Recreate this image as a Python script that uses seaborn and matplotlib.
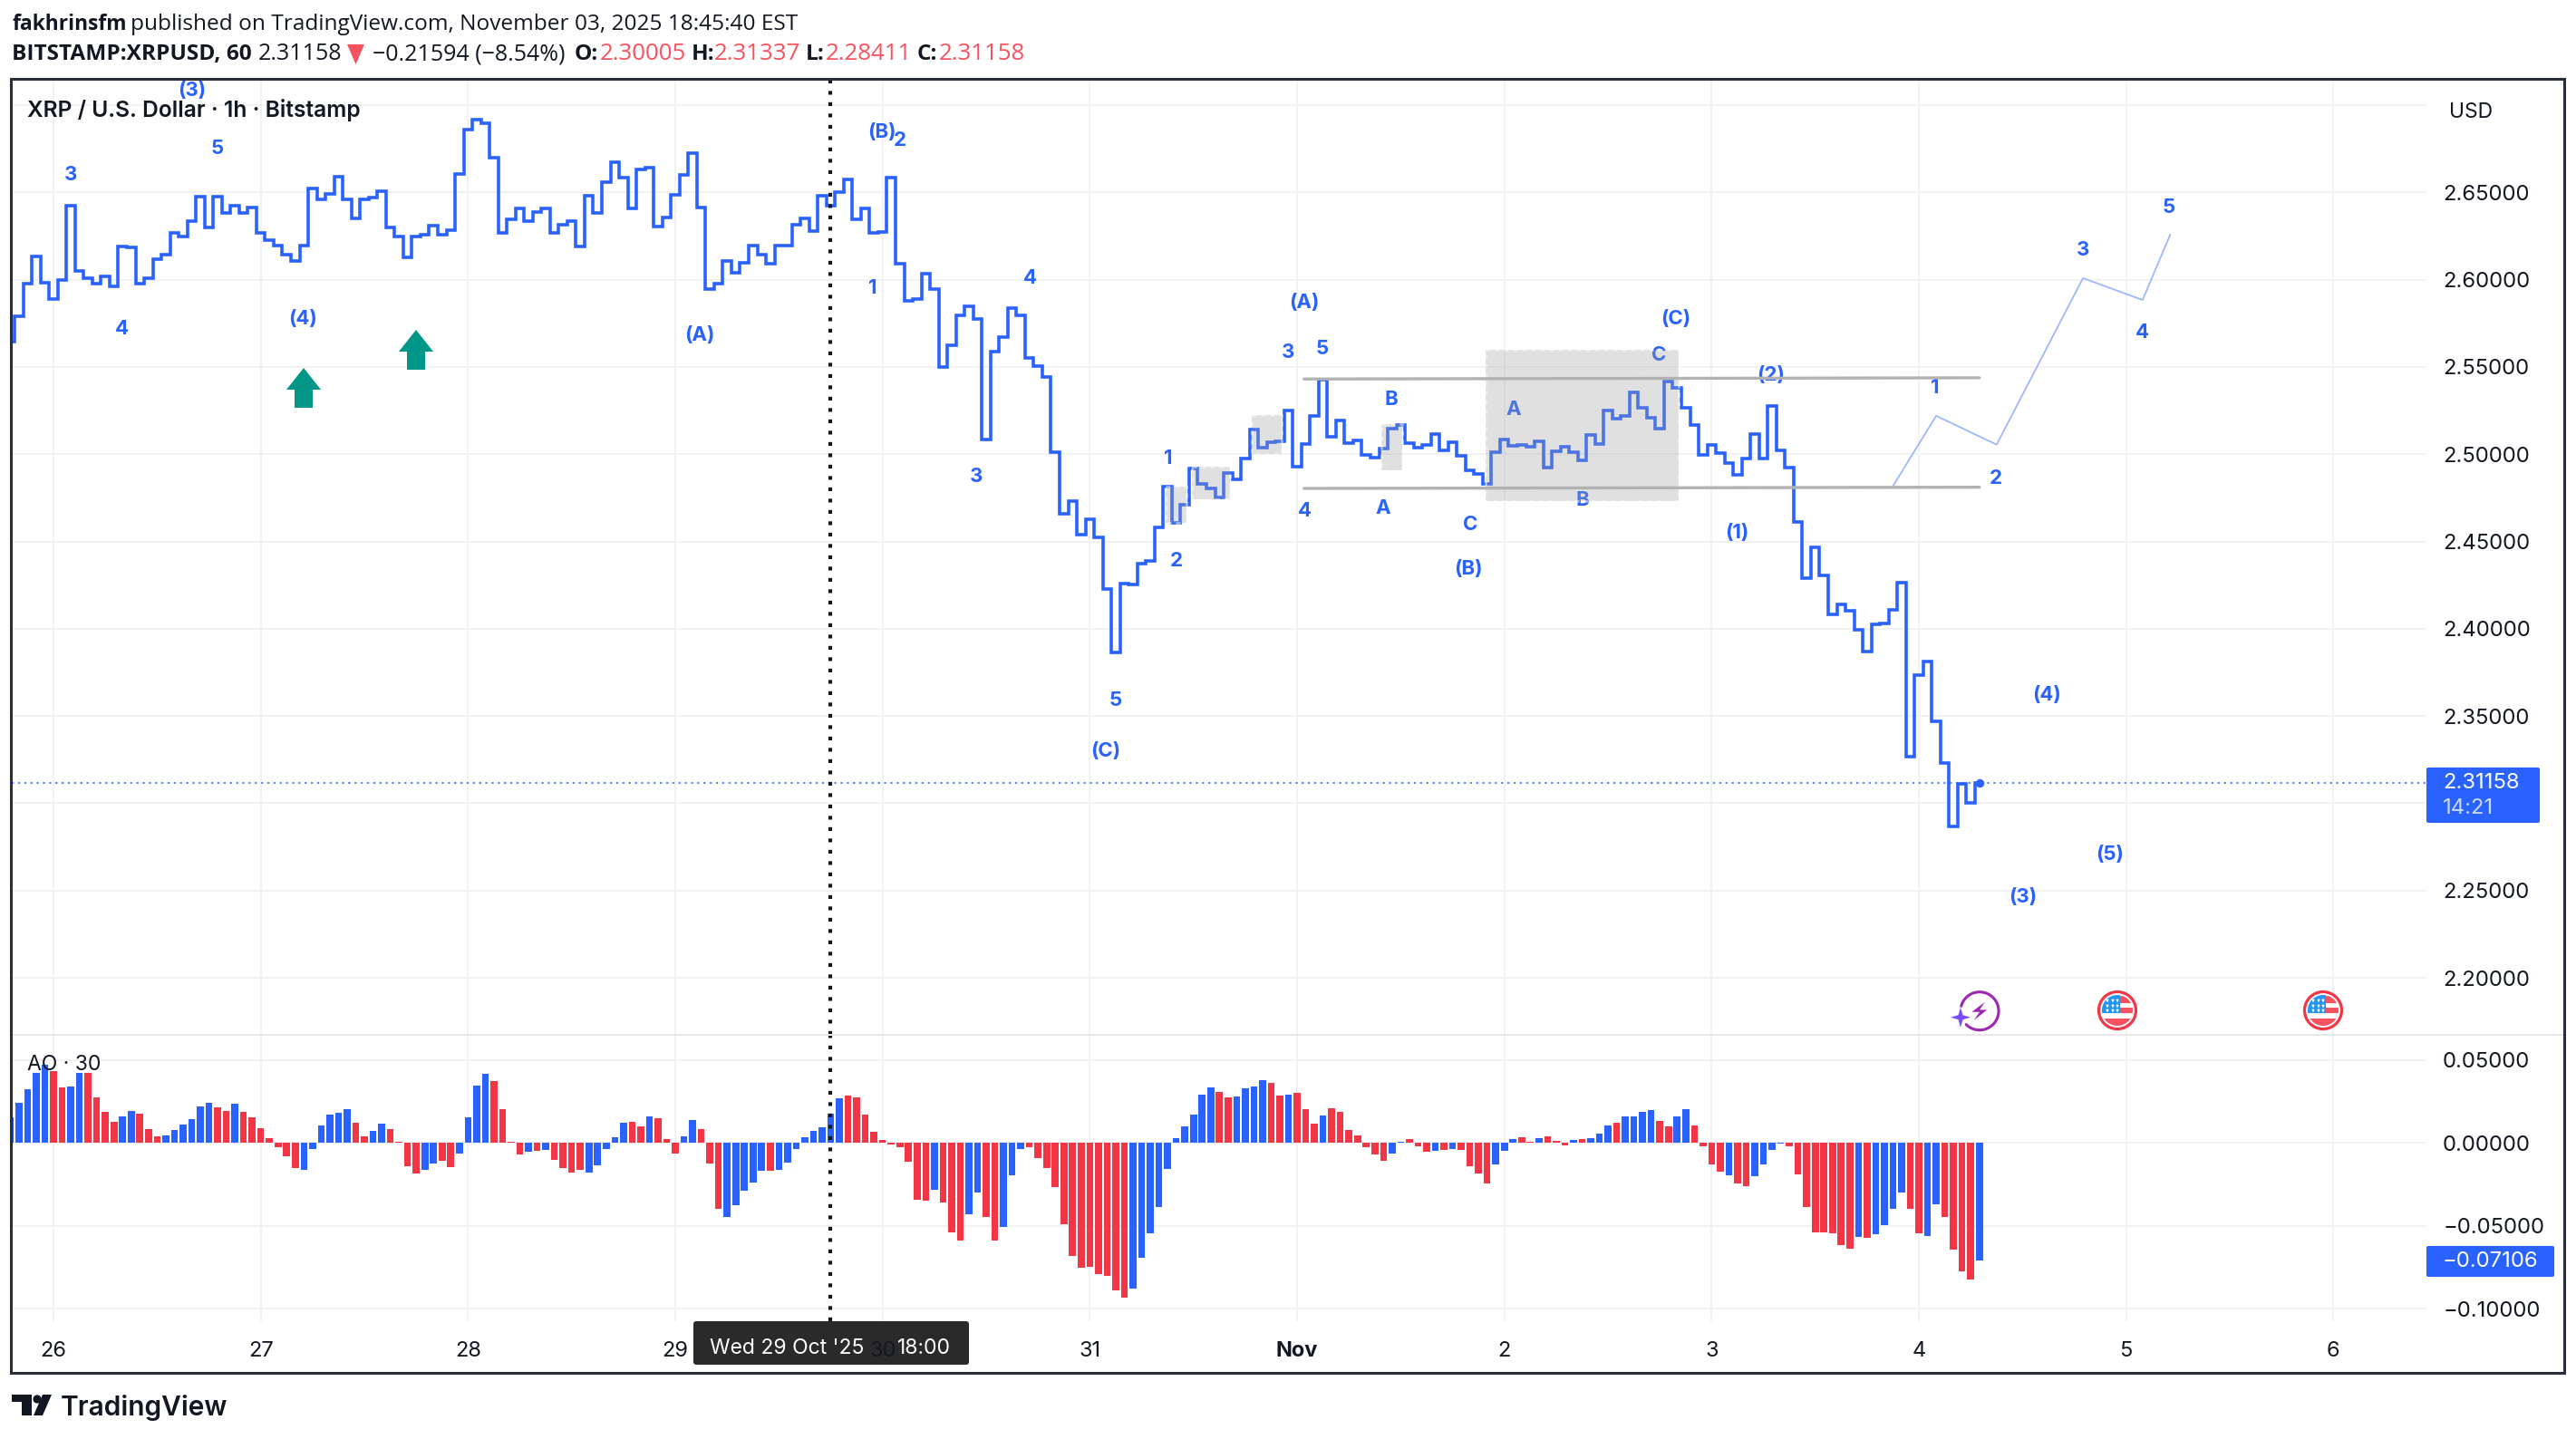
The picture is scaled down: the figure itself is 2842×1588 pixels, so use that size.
import numpy as np
import pandas as pd
import seaborn as sns
import matplotlib
matplotlib.use("Agg")
import matplotlib.pyplot as plt
from matplotlib.patches import Rectangle, Circle, Polygon, FancyBboxPatch
from matplotlib.transforms import Affine2D

# ---------------- data ----------------
# hours counted from 26 Oct 00:00
HOURS = list(range(-5, 224))
CLOSE = [2.5646, 2.5792, 2.5979, 2.6132, 2.5984,
    2.5889, 2.5997, 2.6422, 2.6049, 2.6010, 2.5979, 2.6017, 2.5962, 2.6189, 2.6184, 2.5976, 2.6010, 2.6118, 2.6146, 2.6267, 2.6247, 2.6337, 2.6476, 2.6300, 2.6476, 2.6385, 2.6422, 2.6385, 2.6415,
    2.6267, 2.6229, 2.6198, 2.6146, 2.6106, 2.6193, 2.6523, 2.6462, 2.6490, 2.6589, 2.6462, 2.6352, 2.6462, 2.6469, 2.6509, 2.6297, 2.6245, 2.6128, 2.6245, 2.6257, 2.6309, 2.6260, 2.6283, 2.6606,
    2.6861, 2.6917, 2.6896, 2.6700, 2.6267, 2.6344, 2.6408, 2.6337, 2.6389, 2.6408, 2.6267, 2.6316, 2.6335, 2.6191, 2.6479, 2.6384, 2.6557, 2.6674, 2.6583, 2.6410, 2.6630, 2.6642, 2.6306, 2.6358,
    2.6484, 2.6599, 2.6726, 2.6413, 2.5948, 2.5976, 2.6109, 2.6040, 2.6097, 2.6193, 2.6146, 2.6092, 2.6193, 2.6193, 2.6316, 2.6349, 2.6280, 2.6479, 2.6422, 2.6500, 2.6575, 2.6347, 2.6406, 2.6267,
    2.6276, 2.6587, 2.6091, 2.5878, 2.5891, 2.6036, 2.5947, 2.5501, 2.5627, 2.5794, 2.5850, 2.5776, 2.5085, 2.5590, 2.5673, 2.5835, 2.5794, 2.5553, 2.5506, 2.5445, 2.5014, 2.4661, 2.4732, 2.4539,
    2.4628, 2.4526, 2.4228, 2.3863, 2.4258, 2.4253, 2.4371, 2.4388, 2.4581, 2.4814, 2.4609, 2.4708, 2.4918, 2.4832, 2.4804, 2.4754, 2.4893, 2.4856, 2.4977, 2.5140, 2.5040, 2.5070, 2.5074, 2.5252,
    2.4931, 2.5061, 2.5217, 2.5425, 2.5099, 2.5192, 2.5064, 2.5081, 2.4995, 2.4983, 2.5035, 2.5147, 2.5165, 2.5064, 2.5038, 2.5054, 2.5113, 2.5021, 2.5068, 2.4991, 2.4908, 2.4886, 2.4830, 2.5012,
    2.5087, 2.5047, 2.5054, 2.5045, 2.5073, 2.4922, 2.5019, 2.5043, 2.5012, 2.4967, 2.5109, 2.5061, 2.5251, 2.5203, 2.5220, 2.5355, 2.5265, 2.5208, 2.5147, 2.5416, 2.5378, 2.5265, 2.5165, 2.4997,
    2.5052, 2.5005, 2.4948, 2.4884, 2.4977, 2.5113, 2.4974, 2.5274, 2.5023, 2.4922, 2.4613, 2.4288, 2.4467, 2.4306, 2.4083, 2.4141, 2.4102, 2.3995, 2.3868, 2.4023, 2.4031, 2.4106, 2.4262, 2.3269,
    2.3736, 2.3811, 2.3469, 2.3233, 2.2865, 2.3111, 2.30005, 2.31158]
AO_MILLI = [15.7, 24.2, 32.4, 42.3, 47.2,
    43.5, 33.5, 34.1, 42.3, 42.3, 27.5, 18.8, 12.8, 16.0, 19.3, 17.7, 8.4, 4.0, 4.6, 7.8, 11.1, 14.4, 22.0, 24.2, 21.5, 19.3, 23.7, 18.8, 15.5,
    8.9, 2.9, -2.6, -8.0, -15.1, -16.2, -3.6, 10.6, 17.1, 18.2, 20.4, 12.2, 4.0, 7.3, 11.7, 8.4, 0.7, -14.0, -18.4, -16.2, -12.4, -10.7, -14.6, -6.4,
    15.5, 34.6, 41.7, 37.3, 20.4, 0.7, -6.9, -5.3, -4.7, -4.2, -10.2, -15.1, -17.9, -16.2, -17.9, -13.5, -3.6, 3.5, 12.2, 12.8, 10.0, 16.0, 14.9, 2.4,
    -6.4, 4.0, 13.8, 8.4, -12.4, -39.7, -44.6, -37.5, -28.8, -23.9, -16.8, -16.8, -16.2, -11.8, -3.6, 3.5, 7.3, 9.5, 17.7, 27.0, 28.6, 27.5, 17.1, 6.7,
    1.8, -1.1, -2.4, -11.3, -34.2, -34.8, -28.2, -35.9, -53.9, -58.8, -43.0, -29.9, -44.6, -58.8, -50.6, -19.5, -3.6, -2.6, -9.1, -15.1, -26.6, -49.0, -68.1, -75.2,
    -74.7, -79.1, -80.1, -88.9, -93.3, -87.8, -69.2, -54.5, -38.6, -15.7, 2.9, 10.0, 17.1, 29.1, 33.5, 30.8, 27.5, 28.1, 33.0, 34.1, 37.9, 36.2, 28.6, 29.1,
    30.2, 20.4, 11.7, 16.6, 20.9, 18.8, 7.8, 4.6, -2.6, -6.9, -10.7, -6.4, 0.7, 2.4, -2.0, -5.3, -4.7, -4.2, -3.6, -4.2, -14.0, -18.4, -24.4, -12.9,
    -4.7, 2.4, 3.5, 0.7, 2.9, 4.0, 1.3, -1.5, 1.8, 2.4, 2.9, 5.6, 10.6, 12.2, 16.0, 16.0, 18.8, 19.9, 13.3, 10.0, 16.0, 20.4, 10.6, -2.0,
    -12.9, -17.3, -19.5, -24.4, -26.0, -20.0, -12.9, -4.2, -0.4, -2.0, -18.9, -38.6, -53.9, -53.9, -54.5, -61.6, -63.8, -56.6, -57.2, -55.0, -49.5, -39.7, -29.9, -39.7,
    -54.5, -56.1, -37.0, -44.6, -64.3, -77.4, -82.3, -71.06]
AO_SIGN = ("BBBBB" "RRBBRRRRBBRRRBBBBBBRRBRR" "RRRRRBBBBBBRRBBRRRRBBRRB" "BBBRRRRBRBRRRRBBBBBRRBRR"
           "RBBRRRBBBBBRBBBBBBBBRRRR" "RRRRRRBRRRBBRRBBBRRRRRRR" "RRRRRBBBBBBBBBBRRBBBBRRB"
           "RRRBRRRRRRRBBRRRBRBRRRRB" "BBRRBRRRBRBBBRBBBBRRBBRR" "RRBRRBBBBRRRRRRRRBRBBBBR" "RBBRRRRB")
DAY_TICKS = [0, 24, 48, 72, 96, 120, 144, 168, 192, 216, 240, 264]
DAY_LABELS = ["26", "27", "28", "29", "30", "31", "Nov", "2", "3", "4", "5", "6"]
PRICE_TICKS = [2.70, 2.65, 2.60, 2.55, 2.50, 2.45, 2.40, 2.35, 2.30, 2.25, 2.20]
PRICE_LABELS = ["", "2.65000", "2.60000", "2.55000", "2.50000", "2.45000", "2.40000", "2.35000", "", "2.25000", "2.20000"]
AO_TICKS = [0.05, 0.0, -0.05, -0.10]
AO_LABELS = ["0.05000", "0.00000", "\u22120.05000", "\u22120.10000"]
LAST_PRICE = 2.31158
LAST_AO = -0.07106
CROSSHAIR_HOUR = 90
RANGE_TOP = ([144.8, 223.0], [2.5431, 2.5438])
RANGE_BOTTOM = ([144.8, 223.0], [2.4804, 2.4811])
PROJ_HOURS = [212.9, 218.0, 225.0, 235.0, 241.9, 245.1]
PROJ_PRICE = [2.481, 2.522, 2.5055, 2.6009, 2.5884, 2.6258]
# wave labels: text, position in the 1568-wide view of the chart
WAVES = [("(3)", 117, 54), ("3", 43, 105), ("5", 132, 89), ("4", 74, 199), ("(4)", 184, 193), ("(A)", 426, 203),
         ("(B)", 537, 79), ("2", 548, 84), ("1", 531, 174), ("4", 627, 168), ("3", 594, 289), ("5", 679, 425),
         ("(C)", 673, 456), ("1", 711, 278), ("2", 716, 340), ("3", 784, 213), ("5", 805, 211), ("(A)", 794, 183),
         ("4", 794, 310), ("B", 847, 242), ("A", 842, 308), ("C", 895, 318), ("(B)", 894, 345), ("A", 921, 248),
         ("B", 963, 303), ("C", 1010, 215), ("(C)", 1020, 193), ("(2)", 1078, 227), ("1", 1178, 235), ("2", 1215, 290),
         ("(1)", 1057, 323), ("(4)", 1246, 422), ("(5)", 1284, 519), ("(3)", 1231, 545), ("3", 1268, 151),
         ("4", 1304, 201), ("5", 1320, 125)]

# ---------------- style ----------------
W, H = 2842, 1588
BLUE, RED, INK = "#2962FF", "#F23645", "#131722"
GRID = "#F2F2F3"
sns.set_theme(style="white")
plt.rcParams["font.family"] = ["Inter", "Noto Sans", "DejaVu Sans"]
plt.rcParams["axes.unicode_minus"] = False

fig = plt.figure(figsize=(W / 100, H / 100), dpi=100, facecolor="white")
PX = Affine2D().scale(1 / W, -1 / H).translate(0, 1) + fig.transFigure


def axes_box(x0, y0, x1, y1):
    return [x0 / W, 1 - y1 / H, (x1 - x0) / W, (y1 - y0) / H]


AX_L, AX_R = 13, 2677
ax_p = fig.add_axes(axes_box(AX_L, 87, AX_R, 1142))
ax_a = fig.add_axes(axes_box(AX_L, 1142, AX_R, 1458))
X0, XSTEP = 59, 9.528
XLIM = ((AX_L - X0) / XSTEP, (AX_R - X0) / XSTEP)

frame_df = pd.DataFrame({"hour": HOURS, "close": CLOSE, "ao": np.array(AO_MILLI) * 0.001, "sign": list(AO_SIGN)})

# ---------------- price pane ----------------
sns.lineplot(data=frame_df, x="hour", y="close", ax=ax_p, color=BLUE, linewidth=2.6, drawstyle="steps-mid",
             estimator=None, errorbar=None, zorder=3, solid_joinstyle="miter")
sns.scatterplot(x=[HOURS[-1]], y=[CLOSE[-1]], ax=ax_p, color=BLUE, s=46, linewidth=0, zorder=3)
sns.lineplot(x=PROJ_HOURS, y=PROJ_PRICE, ax=ax_p, color="#9DB8FF", linewidth=1.3, estimator=None, errorbar=None,
             sort=False, zorder=2.5)
for xs, ys in (RANGE_TOP, RANGE_BOTTOM):
    sns.lineplot(x=xs, y=ys, ax=ax_p, color="#B2B2B2", linewidth=2.4, estimator=None, errorbar=None, zorder=4.5)
ax_p.axhline(LAST_PRICE, color=BLUE, lw=1.1, ls=(0, (1.5, 3)), zorder=2)

ax_p.set_xlim(*XLIM)
ax_p.set_ylim(2.1673, 2.7151)
ax_p.set_xticks(DAY_TICKS)
ax_p.set_yticks(PRICE_TICKS)
ax_p.set_yticklabels(PRICE_LABELS)
ax_p.tick_params(axis="x", length=0, labelbottom=False)
ax_p.yaxis.tick_right()
ax_p.tick_params(axis="y", length=0, pad=13, labelsize=17.2, labelcolor=INK)
ax_p.set_xlabel("")
ax_p.set_ylabel("")
ax_p.grid(True, color=GRID, lw=1.4)
ax_p.set_axisbelow(True)

# ---------------- AO pane ----------------
sns.barplot(data=frame_df, x="hour", y="ao", hue="sign", palette={"B": BLUE, "R": RED}, hue_order=["B", "R"],
            dodge=False, native_scale=True, width=0.8, saturation=1, legend=False, ax=ax_a, linewidth=0, zorder=3)
ax_a.set_xlim(*XLIM)
ax_a.set_ylim(-0.1075, 0.0652)
ax_a.set_xticks(DAY_TICKS)
ax_a.set_xticklabels(DAY_LABELS)
for lab in ax_a.get_xticklabels():
    if lab.get_text() == "Nov":
        lab.set_fontweight("bold")
ax_a.tick_params(axis="x", length=0, pad=15.5, labelsize=17, labelcolor=INK)
ax_a.set_yticks(AO_TICKS)
ax_a.set_yticklabels(AO_LABELS)
ax_a.yaxis.tick_right()
ax_a.tick_params(axis="y", length=0, pad=13, labelsize=17.2, labelcolor=INK)
ax_a.set_xlabel("")
ax_a.set_ylabel("")
ax_a.grid(True, color=GRID, lw=1.4)
ax_a.set_axisbelow(True)

for ax in (ax_p, ax_a):
    for s in ax.spines.values():
        s.set_visible(False)
    ax.axvline(CROSSHAIR_HOUR - 0.1, color=INK, lw=3.0, ls=(0, (1.0, 2.0)), zorder=6, dash_capstyle="butt")

# ---------------- grey boxes (over the line and labels) ----------------
BOXES = [(1639, 386, 1852, 553), (1286, 537, 1309, 577), (1315, 515, 1357, 551), (1381, 458, 1414, 501), (1524, 468, 1547, 519)]
for x0, y0, x1, y1 in BOXES:
    ax_p.add_patch(Rectangle((x0, y0), x1 - x0, y1 - y0, transform=PX, fc="#9E9E9E", ec="none", alpha=0.31, zorder=4, clip_on=False))
    ax_p.add_patch(Rectangle((x0, y0), x1 - x0, y1 - y0, transform=PX, fc="none", ec="white", lw=1.8, alpha=0.55,
                             ls=(0, (2, 2)), zorder=4.1, clip_on=False))

# ---------------- wave labels ----------------
VIEW = W / 1568
for s, vx, vy in WAVES:
    ax_p.text(vx * VIEW, vy * VIEW + 2.5, s, transform=PX, color=BLUE, fontsize=16, fontweight="bold",
              ha="center", va="center", zorder=3.5, clip_on=False)

# ---------------- arrows ----------------
for cx, tip in ((335, 406), (459, 364)):
    ax_p.add_patch(Polygon([(cx, tip), (cx + 19, tip + 24), (cx + 10, tip + 24), (cx + 10, tip + 44), (cx - 10, tip + 44),
                            (cx - 10, tip + 24), (cx - 19, tip + 24)], closed=True, transform=PX, fc="#009688", ec="none", zorder=3))

# ---------------- event icons ----------------
cx, cy = 2184, 1115.7
t = np.radians(np.linspace(195, 495, 80))
ax_p.plot(cx + 21 * np.cos(t), cy + 21 * np.sin(t), transform=PX, color="#9C27B0", lw=2.2, zorder=5, clip_on=False, solid_capstyle="round")
bolt = [(5.8, -9.7), (-8.7, 1), (0, 1), (-6.3, 10.3), (8.2, -1.3), (0, -1.3)]
ax_p.add_patch(Polygon([(cx + a, cy + b) for a, b in bolt], closed=True, transform=PX, fc="#9C27B0", ec="none", zorder=5))
sx, sy = 2163, 1122.7
star = [(0, -11), (2.5, -2.5), (11, 0), (2.5, 2.5), (0, 11), (-2.5, 2.5), (-11, 0), (-2.5, -2.5)]
ax_p.add_patch(Polygon([(sx + a, sy + b) for a, b in star], closed=True, transform=PX, fc="#7C4DFF", ec="none", zorder=5))

for cx in (2336, 2563):
    cy = 1115
    ring = Circle((cx, cy), 20.5, transform=PX, fc="white", ec=RED, lw=2.3, zorder=5, clip_on=False)
    ax_p.add_patch(ring)
    clip = Circle((cx, cy), 17, transform=PX, fc="none", ec="none", zorder=5)
    ax_p.add_patch(clip)
    for (rx, ry, rw, rh, col) in ((3, -15.7, 14, 7.4, "#F7525F"), (3, -3.3, 14, 6.6, "#F7525F"), (-17, 9, 34, 8, "#F7525F"),
                                  (-17, -17, 20, 20.3, "#2196F3")):
        r = Rectangle((cx + rx, cy + ry), rw, rh, transform=PX, fc=col, ec="none", zorder=5.1)
        ax_p.add_patch(r)
        r.set_clip_path(clip)
    for sxx in (-11, -5.5, 0):
        for syy in (-11, -5.5, 0):
            ax_p.plot([cx + sxx], [cy + syy], marker="*", ms=3.6, color="white", mew=0, transform=PX, zorder=5.2, clip_on=False)


# ---------------- text ----------------
def px_text(x, y, s, **kw):
    kw.setdefault("va", "center")
    kw.setdefault("color", INK)
    return fig.text(x, y, s, transform=PX, **kw)


HEAD = ["Open Sans", "Noto Sans", "DejaVu Sans"]
HS = 17.6
px_text(13, 27, "fakhrinsfm", fontsize=16.4, fontweight="bold", family=HEAD)
px_text(144, 27, "published on TradingView.com, November 03, 2025 18:45:40 EST", fontsize=HS, family=HEAD)
px_text(13, 60, "BITSTAMP:XRPUSD, 60", fontsize=HS, fontweight="bold", family=HEAD)
px_text(285, 60, "2.31158", fontsize=18, family=HEAD)
fig.patches.append(Polygon([(383, 49), (402, 49), (392.5, 71)], closed=True, transform=PX, fc="#F7525F", ec="none", figure=fig))
px_text(411, 60, "\u22120.21594 (\u22128.54%)", fontsize=18, family=HEAD)
for lx, lab, vx, val in ((634, "O:", 662, "2.30005"), (763, "H:", 788, "2.31337"), (889, "L:", 911, "2.28411"), (1012, "C:", 1036, "2.31158")):
    px_text(lx, 60, lab, fontsize=HS, fontweight="bold", family=HEAD)
    px_text(vx, 60, val, fontsize=18.6, color="#F7525F", family=HEAD)

px_text(30, 122, "XRP / U.S. Dollar \u00b7 1h \u00b7 Bitstamp", fontsize=17.7, fontweight="semibold", zorder=8)
px_text(30, 1175, "AO \u00b7 30", fontsize=16.5, zorder=8)
px_text(2702, 124, "USD", fontsize=16.5)

# price and AO tags
fig.patches.append(FancyBboxPatch((2677, 847), 125, 61, boxstyle="round,pad=0,rounding_size=2", transform=PX, fc=BLUE, ec="none", figure=fig))
px_text(2695, 864, "2.31158", fontsize=17.2, color="white")
px_text(2695, 892, "14:21", fontsize=17.2, color="#C9D8FF")
fig.patches.append(FancyBboxPatch((2677, 1375), 141, 34, boxstyle="round,pad=0,rounding_size=2", transform=PX, fc=BLUE, ec="none", figure=fig))
px_text(2695, 1392, "\u22120.07106", fontsize=17.2, color="white")

# crosshair time tag (tick label "30" shows through it)
tag = FancyBboxPatch((765, 1458), 304, 48, boxstyle="round,pad=0,rounding_size=3", transform=PX, fc="#2A2A2A", ec="none", figure=fig, zorder=-1)
fig.patches.append(tag)
px_text(783, 1488, "Wed 29 Oct '25", fontsize=16.5, color="white", zorder=8)
px_text(1049, 1488, "18:00", fontsize=16.5, color="white", ha="right", zorder=8)

# frame and pane divider
fig.patches.append(Rectangle((12, 87), 2817, 1428, transform=PX, fc="none", ec="#2A2E39", lw=2.2, figure=fig, zorder=9))
fig.patches.append(Rectangle((13, 1141), 2815, 2.4, transform=PX, fc="#E8E8E8", ec="none", figure=fig, zorder=7))

# logo
for pts in ([(13, 1539), (35, 1539), (35, 1562), (24, 1562), (24, 1547), (13, 1547)],
            [(47, 1539), (57, 1539), (47, 1562), (37, 1562)]):
    fig.patches.append(Polygon(pts, closed=True, transform=PX, fc=INK, ec="none", figure=fig))
fig.patches.append(Circle((41, 1544), 4.6, transform=PX, fc=INK, ec="none", figure=fig))
px_text(67, 1553, "TradingView", fontsize=21.5, fontweight="semibold", color=INK)

fig.savefig("out.png", dpi=100, facecolor="white")
